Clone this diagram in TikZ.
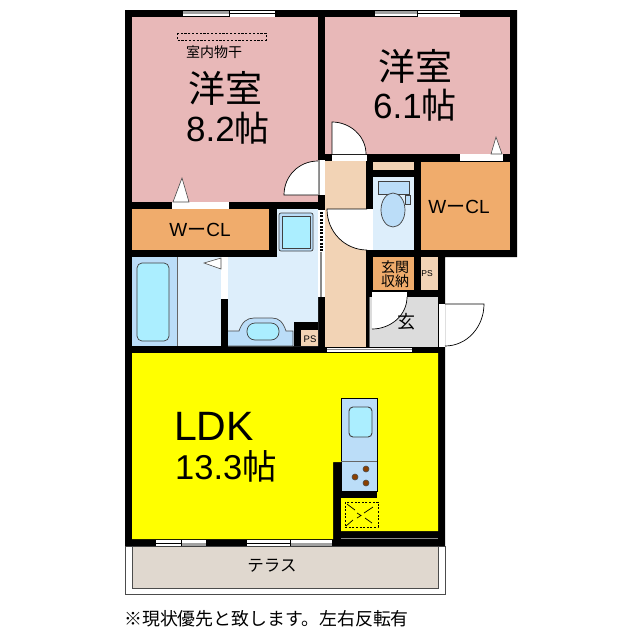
\documentclass[tikz,border=0pt]{standalone}
\usepackage{fontspec}
\setmainfont{Liberation Sans}
\newfontfamily\cjk{Noto Sans CJK JP}
\definecolor{pinkroom}{HTML}{E8B8B8}
\definecolor{orangeroom}{HTML}{F0AC6C}
\definecolor{peachroom}{HTML}{F2D3B5}
\definecolor{paleblue}{HTML}{DDEEFB}
\definecolor{midblue}{HTML}{BBDDF8}
\definecolor{cyanfix}{HTML}{ABEEFF}
\definecolor{floorgray}{HTML}{DCDCDC}
\definecolor{terrace}{HTML}{E0D8CF}
\definecolor{linegray}{HTML}{8A8A8A}
\definecolor{burner}{HTML}{8B4000}
\definecolor{ldkyellow}{RGB}{255,255,0}
\tikzset{
  doorline/.style={draw=black,line width=0.7pt},
  fixture/.style={draw=black!75,line width=0.7pt},
  txt/.style={inner sep=0pt,text=black,align=center},
}
\newcommand{\boxf}[5]{\fill[#1] (#2,#3) rectangle (#4,#5);}
\begin{document}
\begin{tikzpicture}[x=1pt,y=-1pt]
\useasboundingbox (0,0) rectangle (640,640);
\fill[white] (0,0) rectangle (640,640);
% terrace
\draw[fill=white,draw=black!70,line width=0.7pt] (125,546) rectangle (445,594);
\draw[fill=terrace,draw=black!70,line width=0.7pt] (132,546) rectangle (438,588);
% silhouette of walls
\fill[black] (125,10) -- (517,10) -- (517,257) -- (445,257) -- (445,546) -- (125,546) -- cycle;
% rooms
\boxf{pinkroom}{132}{17}{318}{202}
\boxf{pinkroom}{325}{17}{510}{154}
\boxf{orangeroom}{132}{209}{269}{250}
\boxf{orangeroom}{421}{162}{510}{250}
\boxf{peachroom}{325}{161}{366}{347}
\boxf{peachroom}{373}{162}{414}{170}
\boxf{paleblue}{373}{177}{414}{250}
\boxf{orangeroom}{373}{257}{414}{290}
\boxf{peachroom}{421}{257}{438}{290}
\boxf{floorgray}{369}{297}{438}{347}
\draw[black!60,line width=0.6pt] (369,297) -- (369,347);
% bath and wash room
\boxf{midblue}{132}{257}{177}{346}
\boxf{paleblue}{177}{257}{221}{346}
\fill[paleblue] (277,209) -- (318,209) -- (318,346) -- (228,346) -- (228,257) -- (277,257) -- cycle;
\draw[black!60,line width=0.6pt] (177,257) -- (177,346);
\fill[black] (294,322) rectangle (318,346);
\boxf{peachroom}{301}{330}{318}{346}
\draw[fill=midblue,draw=black!70,line width=0.7pt] (228,331) -- (239,331) .. controls (242,322) and (247,318) .. (254,318) -- (272,318) .. controls (279,318) and (283,322) .. (286,331) -- (293,331) -- (293,346) -- (228,346);
\draw[fixture,fill=cyanfix,rounded corners=8pt] (247,323) rectangle (279,340);
\draw[fixture,fill=cyanfix,rounded corners=5pt] (137,263) rectangle (169,341);
\draw[fixture,fill=midblue,rounded corners=2pt] (279,213) rectangle (313,251);
\draw[fixture,fill=cyanfix] (282,216) rectangle (310,248);
% LDK
\fill[ldkyellow] (132,353) -- (438,353) -- (438,531) -- (341,531) -- (341,462) -- (333,462) -- (333,539) -- (132,539) -- cycle;
\draw[linegray,line width=0.9pt] (341,538.5) -- (438,538.5);
% kitchen
\draw[fill=midblue,draw=black,line width=0.7pt] (341,398) rectangle (377,491);
\draw[fixture,fill=cyanfix,rounded corners=4pt,line width=0.9pt] (349,407) rectangle (372,437);
\draw[black!60,line width=1pt] (341,461) -- (377,461);
\fill[black] (341,491) rectangle (377,497.5);
\foreach \cx/\cy in {366/469,355/477,366/483}{
  \draw[fill=burner,draw=black!70,line width=0.6pt] (\cx,\cy) circle[radius=3pt];
}
\draw[black,line width=0.7pt,dash pattern=on 2pt off 1.6pt] (345,502) rectangle (378,527);
\draw[black,line width=0.7pt] (347,504) -- (355,510);
\draw[black,line width=0.7pt] (346,526) -- (353,520);
\draw[black,line width=0.7pt] (373,507) -- (364,513);
\draw[black,line width=0.7pt] (372,523) -- (365,518);
\draw[black,line width=0.7pt] (357,513) -- (361,515.5) -- (357,518);
% toilet
\draw[fixture,fill=midblue] (378,181) rectangle (409,194);
\draw[fixture,fill=midblue] (393,210) ellipse[x radius=12,y radius=17];
\draw[fixture,fill=midblue] (405,195) rectangle (410,204);
% wash-room door opening and sliding panels
\fill[white] (221,257) rectangle (228,299);
\fill[white] (318,210) rectangle (325,297);
\draw[linegray,line width=2.2pt] (321,252) -- (321,297);
\draw[black,line width=2.4pt,dash pattern=on 2pt off 1.4pt] (321.5,212) -- (321.5,252);
\draw[fill=white,draw=black!70,line width=0.6pt] (221,258) -- (204,263) -- (221,269) -- cycle;
% windows
\fill[white] (183,10.5) rectangle (275,16.5);
\fill[linegray!80] (183,10.5) rectangle (229,13.5);
\draw[black,line width=0.6pt] (229,13.5) -- (275,13.5) (229,10.5) -- (229,16.5) (183,16.5) -- (229,16.5);
\fill[white] (375,10.5) rectangle (460,16.5);
\fill[linegray!80] (375,10.5) rectangle (417,13.5);
\draw[black,line width=0.6pt] (417,13.5) -- (460,13.5) (417,10.5) -- (417,16.5) (375,16.5) -- (417,16.5);
\fill[white] (156,540) rectangle (206,546);
\fill[linegray!80] (181,543) rectangle (206,546);
\draw[black,line width=0.6pt] (156,543) -- (181,543) (181,540) -- (181,546);
\fill[white] (247,540) rectangle (332,546);
\fill[linegray!80] (290,543) rectangle (332,546);
\draw[black,line width=0.6pt] (247,543) -- (290,543) (290,540) -- (290,546);
% closet doors with triangles
\boxf{white}{172}{202}{229}{209}
\boxf{white}{460}{154}{503}{161}
\draw[fill=white,draw=black!70,line width=0.6pt] (173,202) -- (182,178) -- (189,202) -- cycle;
\draw[fill=white,draw=black!70,line width=0.6pt] (491,154) -- (496,137) -- (502,154) -- cycle;
% hall opening to LDK
\fill[white] (327,347.5) rectangle (412,352);
\draw[linegray,line width=0.8pt] (327,349.5) -- (412,349.5);
% hinged doors
\boxf{white}{318}{160}{325}{195}
\draw[linegray,line width=1.2pt] (319,160) -- (319,195);
\fill[white] (318,195) -- (284,195) .. controls (284,176) and (299,161) .. (318,161) -- cycle;
\draw[doorline] (318,195) -- (284,195) .. controls (284,176) and (299,161) .. (318,161);
\boxf{white}{332}{154.5}{367}{160.5}
\fill[white] (332,154) -- (332,122) .. controls (350,122) and (366,136) .. (366,154) -- cycle;
\draw[doorline] (332,154) -- (332,122) .. controls (350,122) and (366,136) .. (366,154);
\boxf{white}{367}{209}{373}{250}
\fill[white] (367,209) -- (327,209) .. controls (327,232) and (345,250) .. (367,250) -- cycle;
\draw[doorline] (367,209) -- (327,209) .. controls (327,232) and (345,250) .. (367,250);
\fill[white] (372,292) rectangle (407,297);
\fill[white] (372,297) -- (407,297) .. controls (407,315) and (391,329) .. (372,329) -- cycle;
\draw[doorline] (407,297) .. controls (407,315) and (391,329) .. (372,329);
\boxf{white}{439}{304}{445}{347}
\draw[doorline] (445,304) -- (484,304) .. controls (484,327) and (467,346) .. (445,346);
% dashed drying rail
\draw[black,line width=0.7pt,dash pattern=on 2.2pt off 1.6pt] (177,33) rectangle (266,40);
% labels
\node[txt,font=\cjk\fontsize{14}{15}\selectfont] (rail) at (214,52) {室内物干};
\node[txt,font=\cjk\fontsize{37}{38}\selectfont] (room1) at (225,88) {洋室};
\node[txt,font=\fontsize{35}{36}\selectfont] (size1) at (228,128) {8.2{\cjk 帖}};
\node[txt,font=\cjk\fontsize{37}{38}\selectfont] (room2) at (415,66) {洋室};
\node[txt,font=\fontsize{35}{36}\selectfont] (size2) at (415,105) {6.1{\cjk 帖}};
\node[txt,font=\fontsize{19}{20}\selectfont] (cl1) at (200,230) {W{\cjk ー}CL};
\node[txt,font=\fontsize{19}{20}\selectfont] (cl2) at (459,207) {W{\cjk ー}CL};
\node[txt,font=\fontsize{9.5}{10}\selectfont] (ps1) at (310,339) {PS};
\node[txt,font=\fontsize{8.5}{9}\selectfont] (ps2) at (427,274) {PS};
\node[txt,font=\cjk\fontsize{14}{15}\selectfont] (store) at (395,274) {玄関\\[-1pt]収納};
\node[txt,font=\cjk\fontsize{18}{19}\selectfont] (entry) at (406,322) {玄};
\node[txt,font=\fontsize{41}{42}\selectfont,anchor=west] (ldk) at (174,426) {LDK};
\node[txt,font=\fontsize{34.5}{35}\selectfont,anchor=west] (size3) at (175,466) {13.3{\cjk 帖}};
\node[txt,font=\cjk\fontsize{16.5}{17}\selectfont] (terr) at (272,566) {テラス};
\node[txt,font=\cjk\fontsize{17.9}{18}\selectfont,anchor=west] (note) at (124,619) {※現状優先と致します。左右反転有};
\end{tikzpicture}
\end{document}
